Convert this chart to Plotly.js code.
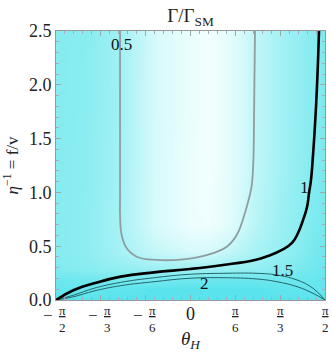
<!DOCTYPE html>
<html>
<head>
<meta charset="utf-8">
<script src="https://cdn.plot.ly/plotly-3.0.1.min.js"></script>
<style>body{margin:0;background:#fff}</style>
</head>
<body>
<div id="chart" style="width:332px;height:352px"></div>
<script>
var PI = Math.PI;

// background shade: 0 = white, 1 = full cyan
var shadeTheta = [-1.571, -1.2, -0.82, -0.4, 0, 0.2, 0.4, 0.75, 1.1, 1.4, 1.571];
var shadeEta = [0, 0.1, 0.2, 0.3, 0.45, 0.7, 1.2, 1.8, 2.5];
var shade = [
  [1.00, 1.00, 1.00, 1.00, 1.00, 1.00, 1.00, 1.00, 1.00, 1.00, 1.00],
  [0.95, 0.95, 0.97, 1.00, 1.00, 1.00, 1.00, 1.00, 0.97, 0.95, 0.95],
  [0.90, 0.88, 0.85, 0.85, 0.88, 0.90, 0.90, 0.90, 0.90, 0.92, 0.95],
  [0.82, 0.78, 0.72, 0.66, 0.64, 0.64, 0.66, 0.72, 0.80, 0.88, 0.92],
  [0.80, 0.75, 0.62, 0.42, 0.32, 0.32, 0.42, 0.60, 0.72, 0.85, 0.90],
  [0.80, 0.75, 0.60, 0.30, 0.10, 0.08, 0.18, 0.50, 0.70, 0.82, 0.88],
  [0.80, 0.76, 0.62, 0.30, 0.10, 0.05, 0.15, 0.45, 0.66, 0.80, 0.86],
  [0.80, 0.77, 0.64, 0.30, 0.12, 0.05, 0.15, 0.45, 0.65, 0.78, 0.85],
  [0.80, 0.78, 0.65, 0.30, 0.12, 0.05, 0.15, 0.45, 0.65, 0.78, 0.85]
];

// contour Γ/Γ_SM = 0.5
var c05Theta = [-0.823, -0.823, -0.823, -0.823, -0.804, -0.745, -0.628, -0.395, -0.084, 0.189, 0.423, 0.540, 0.617, 0.668, 0.712, 0.732, 0.742, 0.753];
var c05Eta   = [2.5, 1.673, 0.929, 0.790, 0.604, 0.480, 0.402, 0.372, 0.378, 0.418, 0.495, 0.604, 0.760, 0.900, 1.050, 1.250, 1.673, 2.5];

// contour Γ/Γ_SM = 1
var c1Theta = [-1.5708, -1.361, -1.127, -0.815, -0.426, -0.006, 0.380, 0.753, 0.905, 1.069, 1.185, 1.256, 1.314, 1.361, 1.384, 1.407, 1.431, 1.454, 1.477, 1.501];
var c1Eta   = [0, 0.093, 0.155, 0.217, 0.257, 0.288, 0.325, 0.372, 0.409, 0.465, 0.530, 0.623, 0.743, 0.864, 0.994, 1.115, 1.348, 1.626, 1.980, 2.5];

// contour Γ/Γ_SM = 1.5
var c15Theta = [-1.5708, -1.361, -1.127, -0.815, -0.426, -0.006, 0.380, 0.777, 1.010, 1.244, 1.431, 1.5708];
var c15Eta   = [0, 0.046, 0.109, 0.164, 0.207, 0.239, 0.248, 0.248, 0.232, 0.186, 0.109, 0];

// contour Γ/Γ_SM = 2
var c2Theta = [-1.5708, -1.361, -1.127, -0.815, -0.426, -0.006, 0.380, 0.777, 1.010, 1.244, 1.431, 1.5708];
var c2Eta   = [0, 0.031, 0.084, 0.133, 0.170, 0.202, 0.207, 0.195, 0.170, 0.124, 0.062, 0];

var labelText  = ['0.5', '1', '1.5', '2'];
var labelTheta = [-0.811, 1.337, 1.07, 0.169];
var labelEta   = [2.37, 1.05, 0.275, 0.158];

// x ticks: multiples of pi/6, written as stacked fractions
var tickVals  = [-PI/2, -PI/3, -PI/6, 0, PI/6, PI/3, PI/2];
var tickSign  = ['\u2212', '\u2212', '\u2212', '', '', '', ''];
var tickDenom = ['2', '3', '6', '', '6', '3', '2'];

var serif = 'Liberation Serif';
var ink = '#222';

var data = [
  {
    type: 'heatmap',
    x: shadeTheta,
    y: shadeEta,
    z: shade,
    zmin: 0, zmax: 1,
    zsmooth: 'best',
    colorscale: [[0, '#f7ffff'], [0.3, '#d8fafb'], [0.6, '#a8f2f5'], [0.8, '#86ecf0'], [1, '#5ae3ed']],
    showscale: false,
    hoverinfo: 'skip'
  },
  {x: c05Theta, y: c05Eta, mode: 'lines', line: {color: '#8e9ea0', width: 1.8, shape: 'spline', smoothing: 1.2}, hoverinfo: 'skip'},
  {x: c2Theta, y: c2Eta, mode: 'lines', line: {color: '#23666a', width: 1, shape: 'spline', smoothing: 1.2}, hoverinfo: 'skip'},
  {x: c15Theta, y: c15Eta, mode: 'lines', line: {color: '#23666a', width: 1, shape: 'spline', smoothing: 1.2}, hoverinfo: 'skip'},
  {x: c1Theta, y: c1Eta, mode: 'lines', line: {color: '#000', width: 2.6, shape: 'spline', smoothing: 1.3}, hoverinfo: 'skip'}
];

var annotations = labelText.map(function (t, i) {
  return {x: labelTheta[i], y: labelEta[i], text: t, showarrow: false,
          font: {family: serif, size: 17, color: '#111'}};
});

tickVals.forEach(function (v, i) {
  if (tickDenom[i] === '') {
    annotations.push({x: v, xref: 'x', y: 0, yref: 'paper', yanchor: 'middle', yshift: -14,
                      text: '0', showarrow: false, font: {family: serif, size: 18, color: ink}});
    return;
  }
  var shift = tickSign[i] ? 6.5 : 0;
  annotations.push({x: v, xref: 'x', y: 0, yref: 'paper', yanchor: 'top', yshift: -1, xshift: shift,
                    text: '<u>\u03c0</u><br>' + tickDenom[i], showarrow: false,
                    font: {family: serif, size: 13, color: ink}});
  if (tickSign[i]) {
    annotations.push({x: v, xref: 'x', y: 0, yref: 'paper', yanchor: 'middle', yshift: -15, xshift: -8,
                      text: tickSign[i], showarrow: false, font: {family: serif, size: 17, color: ink}});
  }
});

var layout = {
  width: 332,
  height: 352,
  margin: {l: 56, r: 7, t: 31, b: 52},
  paper_bgcolor: '#fff',
  plot_bgcolor: '#fff',
  showlegend: false,
  font: {family: serif, color: ink},
  title: {
    text: '\u0393/\u0393<sub>SM</sub>',
    font: {family: serif, size: 19, color: ink},
    x: 0.5, xref: 'paper', xanchor: 'center',
    y: 0.955, yanchor: 'middle'
  },
  xaxis: {
    range: [-PI/2, PI/2],
    tickmode: 'array',
    tickvals: tickVals,
    showticklabels: false,
    ticks: 'inside', ticklen: 5, tickcolor: '#9aa',
    minor: {tick0: -PI/2, dtick: PI/30, ticks: 'inside', ticklen: 3, tickcolor: '#aab'},
    showline: true, linecolor: '#999', linewidth: 1, mirror: 'ticks',
    showgrid: false, zeroline: false,
    title: {text: '<i>\u03b8<sub>H</sub></i>', font: {family: serif, size: 19, color: ink}, standoff: 33}
  },
  yaxis: {
    range: [0, 2.5],
    dtick: 0.5,
    tickformat: '.1f',
    tickfont: {family: serif, size: 18, color: ink},
    ticks: 'inside', ticklen: 5, tickcolor: '#9aa',
    minor: {dtick: 0.1, ticks: 'inside', ticklen: 3, tickcolor: '#aab'},
    showline: true, linecolor: '#999', linewidth: 1, mirror: 'ticks',
    showgrid: false, zeroline: false,
    title: {text: '<i>\u03b7</i><sup>\u22121</sup> = f/v', font: {family: serif, size: 17, color: ink}, standoff: 6}
  },
  annotations: annotations
};

Plotly.newPlot('chart', data, layout, {displayModeBar: false, staticPlot: true});
</script>
</body>
</html>
